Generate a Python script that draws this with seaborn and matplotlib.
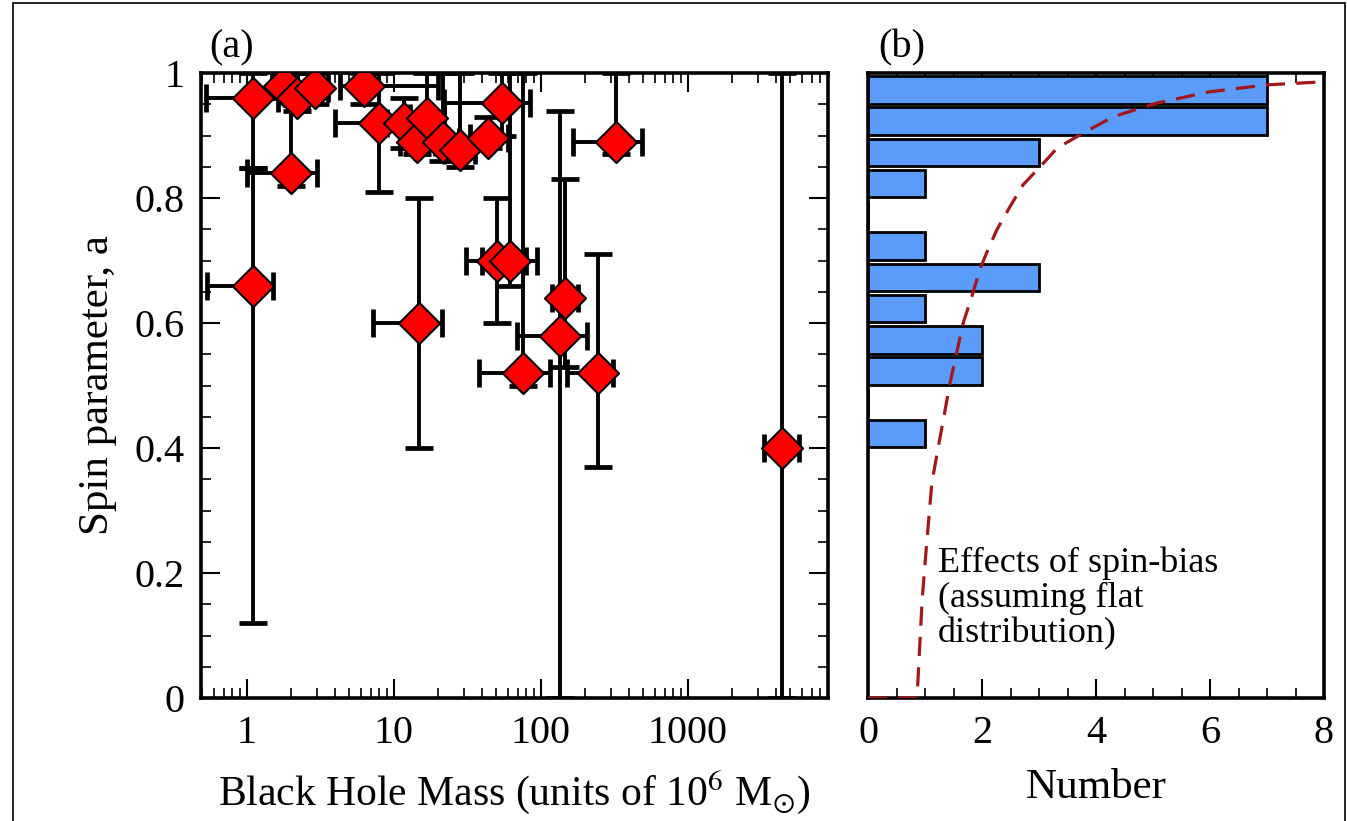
import numpy as np
import pandas as pd
import matplotlib
matplotlib.use("Agg")
import matplotlib.pyplot as plt
import seaborn as sns
from matplotlib.patches import Rectangle
from matplotlib.ticker import FixedLocator, MultipleLocator, LogLocator, NullFormatter, FixedFormatter

# ---------------- data ----------------
mass = [1.1, 1.1, 2.0, 1.8, 2.2, 2.9, 6.3, 8.0, 11.7, 14.5, 17.0, 21.8, 28.5, 44.0,
        55.0, 15.0, 50.7, 62.0, 147.0, 135.0, 76.0, 245.0, 325.0, 4400.0]
mass_lo = [0.53, 0.54, 1.0, 1.5, 1.9, 2.2, 4.3, 4.0, 9.0, 11.0, 13.0, 17.0, 22.0, 33.0,
           22.0, 7.2, 31.0, 40.0, 120.0, 69.0, 38.0, 150.0, 166.0, 3300.0]
mass_hi = [1.64, 1.51, 3.0, 2.2, 2.6, 3.6, 20.0, 11.0, 15.0, 19.0, 22.0, 28.0, 36.0, 60.0,
           85.0, 21.5, 80.0, 95.0, 180.0, 207.0, 116.0, 310.0, 487.0, 5700.0]
spin = [0.96, 0.66, 0.84, 0.98, 0.96, 0.976, 0.98, 0.92, 0.92, 0.89, 0.928, 0.89, 0.877, 0.896,
        0.952, 0.60, 0.70, 0.70, 0.64, 0.58, 0.52, 0.52, 0.89, 0.40]
spin_lo = [0.848, 0.12, 0.82, 0.96, 0.94, 0.95, 0.95, 0.81, 0.88, 0.87, 0.90, 0.86, 0.85, 0.88,
           0.90, 0.40, 0.60, 0.66, 0.53, 0.0, 0.50, 0.37, 0.87, 0.0]
spin_hi = [1.0, 0.848, 1.0, 1.0, 1.0, 1.0, 1.0, 1.0, 0.96, 0.93, 1.0, 1.0, 1.0, 0.93,
           1.0, 0.80, 0.80, 1.0, 0.83, 0.94, 1.0, 0.71, 1.0, 1.0]

bin_lo = [0.95, 0.90, 0.85, 0.80, 0.75, 0.70, 0.65, 0.60, 0.55, 0.50, 0.45, 0.40]
counts = [7, 7, 3, 1, 0, 1, 3, 1, 2, 2, 0, 1]

bias_number = [0.0, 0.86, 0.95, 1.02, 1.12, 1.23, 1.44, 1.67, 1.82, 1.96, 2.08, 2.26, 2.49,
               2.72, 3.02, 3.32, 3.72, 4.30, 5.07, 6.0, 7.0, 8.0]
bias_spin = [0.0, 0.0, 0.157, 0.237, 0.344, 0.40, 0.504, 0.60, 0.642, 0.685, 0.712, 0.749, 0.786,
             0.821, 0.85, 0.88, 0.901, 0.930, 0.952, 0.970, 0.981, 0.986]

x_ticks_a = [1, 10, 100, 1000]
x_ticklabels_a = ["1", "10", "100", "1000"]
y_ticks = [0, 0.2, 0.4, 0.6, 0.8, 1.0]
y_ticklabels = ["0", "0.2", "0.4", "0.6", "0.8", "1"]
x_ticks_b = [0, 2, 4, 6, 8]
x_ticklabels_b = ["0", "2", "4", "6", "8"]

# ---------------- style ----------------
sns.set_theme(style="ticks")
plt.rcParams["font.family"] = ["Liberation Serif", "DejaVu Serif"]
plt.rcParams["mathtext.fontset"] = "stix"
plt.rcParams["axes.linewidth"] = 2.6
plt.rcParams["text.color"] = "black"
plt.rcParams["axes.labelcolor"] = "black"
plt.rcParams["xtick.color"] = "black"
plt.rcParams["ytick.color"] = "black"

W, H = 1347, 821
fig = plt.figure(figsize=(W / 100, H / 100), dpi=100)
fig.patch.set_facecolor("white")

def frac(x0, y0, x1, y1):
    return [x0 / W, 1 - y1 / H, (x1 - x0) / W, (y1 - y0) / H]

ax = fig.add_axes(frac(201, 73, 828, 698))
axb = fig.add_axes(frac(868, 73, 1324, 698))

tick_fs = 29
label_fs = 31

# ---------------- panel (a) ----------------
df = pd.DataFrame({"mass": mass, "spin": spin})
m = np.array(mass); s = np.array(spin)
xerr = [m - np.array(mass_lo), np.array(mass_hi) - m]
yerr = [s - np.array(spin_lo), np.array(spin_hi) - s]
ax.errorbar(m, s, xerr=xerr, yerr=yerr, fmt="none", ecolor="black",
            elinewidth=2.8, capsize=10, capthick=3.4, zorder=2)
sns.scatterplot(data=df, x="mass", y="spin", marker="D", s=440, color="#ff0000",
                edgecolor="black", linewidth=1.5, ax=ax, zorder=3, legend=False)
ax.set_xscale("log")
ax.set_xlim(0.49, 9000)
ax.set_ylim(0, 1)
ax.xaxis.set_major_locator(FixedLocator(x_ticks_a))
ax.xaxis.set_major_formatter(FixedFormatter(x_ticklabels_a))
ax.xaxis.set_minor_locator(LogLocator(base=10, subs=np.arange(2, 10)))
ax.xaxis.set_minor_formatter(NullFormatter())
ax.yaxis.set_major_locator(FixedLocator(y_ticks))
ax.yaxis.set_major_formatter(FixedFormatter(y_ticklabels))
ax.yaxis.set_minor_locator(MultipleLocator(0.05))
ax.tick_params(which="both", direction="in", top=True, right=True, colors="black",
               labelsize=tick_fs)
ax.tick_params(which="major", length=14, width=1.5, pad=12)
ax.tick_params(which="minor", length=7, width=1.2)
ax.set_xlabel("Black Hole Mass (units of 10$^{6}$ M$_{\\odot}$)", fontsize=30, labelpad=12,
              color="black")
ax.set_ylabel("Spin parameter, a", fontsize=label_fs, labelpad=12, color="black")
for sp in ax.spines.values():
    sp.set_color("black")

# ---------------- panel (b) ----------------
axb.barh([b + 0.001 for b in bin_lo], counts, height=0.044, align="edge",
         color="#5b9bfa", edgecolor="black", linewidth=2.0, zorder=2)
dfb = pd.DataFrame({"n": bias_number, "a": bias_spin})
sns.lineplot(data=dfb, x="n", y="a", sort=False, estimator=None, ax=axb,
             color="#a3161a", linewidth=2.3, linestyle=(0, (6, 3.5)), zorder=3)
axb.set_xlim(0, 8)
axb.set_ylim(0, 1)
axb.xaxis.set_major_locator(FixedLocator(x_ticks_b))
axb.xaxis.set_major_formatter(FixedFormatter(x_ticklabels_b))
axb.xaxis.set_minor_locator(MultipleLocator(0.5))
axb.yaxis.set_major_locator(FixedLocator([]))
axb.tick_params(which="both", direction="in", top=True, right=False, left=False,
                colors="black", labelsize=tick_fs)
axb.tick_params(which="major", length=14, width=1.5, pad=12)
axb.tick_params(which="minor", length=7, width=1.2)
axb.set_xlabel("Number", fontsize=label_fs, labelpad=12, color="black")
axb.set_ylabel("")
for sp in axb.spines.values():
    sp.set_color("black")
axb.text(1.23, 0.16, "Effects of spin-bias\n(assuming flat\ndistribution)",
         fontsize=26, ha="left", va="center", linespacing=1.08, color="black")

# panel labels
fig.text(232 / W, 1 - 48 / H, "(a)", fontsize=29, ha="center", va="center", color="black")
fig.text(902 / W, 1 - 48 / H, "(b)", fontsize=29, ha="center", va="center", color="black")

# outer frame
fig.add_artist(Rectangle((13 / W, -0.05), (1345 - 13) / W, 1.05 - 3 / H,
                         transform=fig.transFigure, fill=False, edgecolor="black",
                         linewidth=1.2, clip_on=False))

fig.savefig("out.png", dpi=100)
